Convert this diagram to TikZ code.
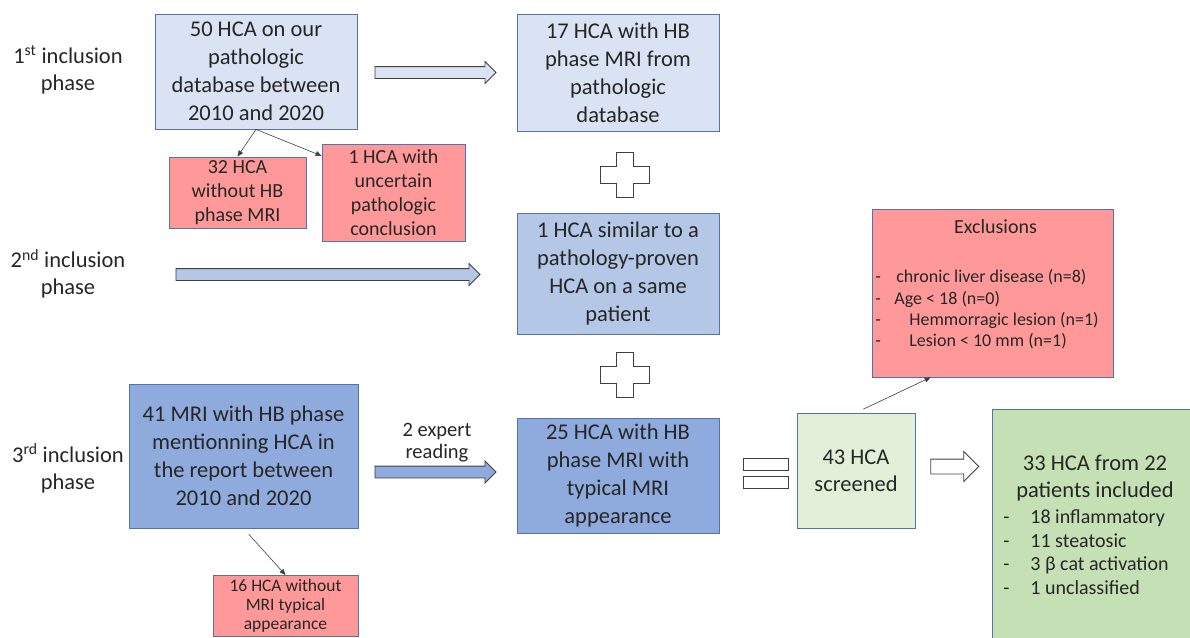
\documentclass[tikz,border=0pt]{standalone}
\usepackage{fontspec}
\setmainfont{Carlito}
\usetikzlibrary{shapes.arrows,arrows.meta,calc}

\definecolor{paleblue}{RGB}{218,227,243}
\definecolor{midblue}{RGB}{180,199,231}
\definecolor{deepblue}{RGB}{143,170,220}
\definecolor{edgeblue}{RGB}{84,114,176}
\definecolor{rosered}{RGB}{255,153,153}
\definecolor{palegreen}{RGB}{226,240,217}
\definecolor{midgreen}{RGB}{197,224,180}
\definecolor{inkgray}{RGB}{38,38,38}
\definecolor{outlinegray}{RGB}{64,64,64}

\tikzset{
  stagebox/.style={draw=edgeblue, line width=0.8pt, text=inkgray, align=center, inner sep=0pt, font=\fontsize{22.5}{28}\selectfont},
  dropbox/.style={stagebox, fill=rosered, font=\fontsize{20}{24}\selectfont},
  phaselbl/.style={text=inkgray, align=center, font=\fontsize{22.5}{27}\selectfont},
  bigarrow/.style={single arrow, draw=outlinegray, line width=0.8pt, inner xsep=0pt, inner ysep=5.5pt, single arrow head extend=5pt},
  conn/.style={draw=outlinegray, line width=0.6pt, -{Triangle[length=6pt,width=5pt]}},
  outl/.style={draw=outlinegray, line width=0.8pt, fill=white},
  plussign/.pic={
    \draw[outl] (-8.5,-22.5) -- (8.5,-22.5) -- (8.5,-8.5) -- (24.5,-8.5) -- (24.5,8.5) -- (8.5,8.5)
      -- (8.5,22.5) -- (-8.5,22.5) -- (-8.5,8.5) -- (-24.5,8.5) -- (-24.5,-8.5) -- (-8.5,-8.5) -- cycle;
  }
}

\begin{document}
\begin{tikzpicture}[x=1pt, y=-1pt]
  \useasboundingbox (0,0) rectangle (1190,637);
  \clip (0,0) rectangle (1190,637);

  % phase labels
  \node[phaselbl] (phaseone) at (68,70) {1\textsuperscript{st} inclusion\\phase};
  \node[phaselbl] (phasetwo) at (68,274) {2\textsuperscript{nd} inclusion\\phase};
  \node[phaselbl] (phasethree) at (68,468.5) {3\textsuperscript{rd} inclusion\\phase};

  % first phase
  \node[stagebox, fill=paleblue, minimum width=202pt, minimum height=115pt] (pathdb) at (256,71.5) {50 HCA on our\\pathologic\\database between\\2010 and 2020};
  \node[dropbox, minimum width=137pt, minimum height=71pt] (nohb) at (237.5,192.5) {32 HCA\\without HB\\phase MRI};
  \node[dropbox, minimum width=143pt, minimum height=97pt] (uncertain) at (393.5,192.5) {1 HCA with\\uncertain\\pathologic\\conclusion};
  \node[stagebox, fill=paleblue, minimum width=202pt, minimum height=117pt] (hbpath) at (618,72.5) {17 HCA with HB\\phase MRI from\\pathologic\\database};
  \node[bigarrow, fill=paleblue, minimum height=121pt] (pushone) at (432.5,72.5) {};

  \draw[conn] (pathdb.south) -- (nohb.north);
  \draw[conn] (pathdb.south) -- (uncertain.153);

  % second phase
  \node[stagebox, fill=midblue, minimum width=202pt, minimum height=121pt] (similar) at (618,273.5) {1 HCA similar to a\\pathology-proven\\HCA on a same\\patient};
  \node[bigarrow, fill=midblue, minimum height=304pt] (pushtwo) at (325,274.5) {};

  % third phase
  \node[stagebox, fill=deepblue, minimum width=229pt, minimum height=144pt] (mrirep) at (243.5,456) {41 MRI with HB phase\\mentionning HCA in\\the report between\\2010 and 2020};
  \node[dropbox, anchor=north, minimum width=145pt, inner ysep=4pt, font=\fontsize{17.5}{19}\selectfont] (atypical) at (285.5,575) {16 HCA without\\MRI typical\\appearance};
  \node[bigarrow, fill=deepblue, minimum height=121pt] (pushthree) at (432.5,472) {};
  \node[phaselbl, font=\fontsize{20.5}{22}\selectfont] (expert) at (437,443) {2 expert\\reading};
  \node[stagebox, fill=deepblue, minimum width=202pt, minimum height=115pt] (typical) at (618,475.5) {25 HCA with HB\\phase MRI with\\typical MRI\\appearance};

  \draw[conn, shorten <=8pt] (mrirep.south) -- (atypical.north);

  \pic at (624.5,174.5) {plussign};
  \pic at (624.5,375) {plussign};

  % totals
  \draw[outl] (743,458) rectangle (788,470);
  \draw[outl] (743,476) rectangle (788,488);
  \node[stagebox, fill=palegreen, minimum width=118pt, minimum height=115pt, font=\fontsize{22.5}{27}\selectfont] (screened) at (856,470.5) {43 HCA\\screened};
  \node[bigarrow, fill=white, minimum height=48pt, inner ysep=7pt, single arrow head extend=7.5pt] (pushfour) at (951,466.5) {};

  \node[stagebox, fill=rosered, minimum width=241pt, minimum height=168pt, font=\fontsize{18}{21.3}\selectfont] (excl) at (992.5,293) {%
    \begin{tabular}{@{}l@{\hspace{11pt}}}
      \multicolumn{1}{c@{}}{\fontsize{20}{21.3}\selectfont Exclusions}\\[28pt]
      \makebox[21pt][l]{-}chronic liver disease (n=8)\\
      \makebox[19pt][l]{-}Age < 18 (n=0)\\
      \makebox[34pt][l]{-}Hemmorragic lesion (n=1)\\
      \makebox[34pt][l]{-}Lesion < 10 mm (n=1)\\[14pt]
    \end{tabular}};
  \draw[conn, shorten <=8pt] (screened.north) -- ($(excl.south west)+(59,0)$);

  \node[stagebox, fill=midgreen, minimum width=200pt, minimum height=237pt, font=\fontsize{20}{23.5}\selectfont] (included) at (1092,528) {%
    \begin{tabular}{@{}l@{\hspace{12pt}}}
      \multicolumn{1}{c@{}}{\fontsize{22.5}{27}\selectfont 33 HCA from 22}\\[3pt]
      \multicolumn{1}{c@{}}{\fontsize{22.5}{27}\selectfont patients included}\\[3pt]
      \makebox[27pt][l]{-}18 inflammatory\\
      \makebox[27pt][l]{-}11 steatosic\\
      \makebox[27pt][l]{-}3 β cat activation\\
      \makebox[27pt][l]{-}1 unclassified
    \end{tabular}};
\end{tikzpicture}
\end{document}
